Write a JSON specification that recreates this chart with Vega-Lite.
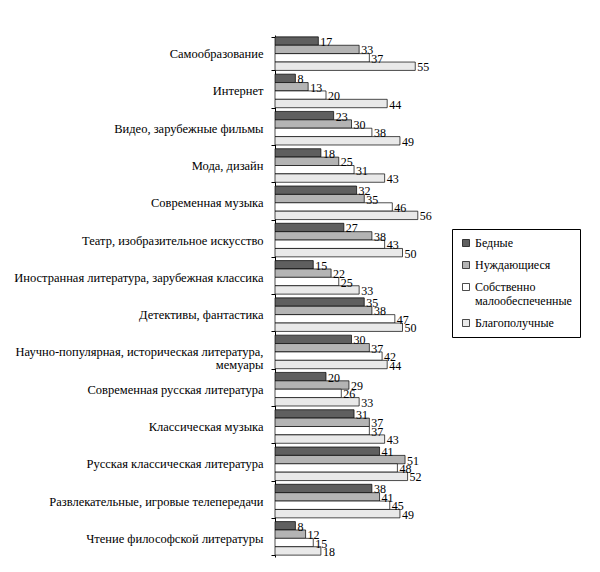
{
  "$schema": "https://vega.github.io/schema/vega-lite/v6.json",
  "autosize": {"type": "none"},
  "padding": {"left": 275, "top": 35, "right": 70, "bottom": 15},
  "width": 255,
  "height": 522,
  "background": "white",
  "config": {
    "view": {"stroke": null}
  },
  "data": {
    "values": [
      {"cat": "Самообразование", "group": "Бедные", "value": 17},
      {"cat": "Самообразование", "group": "Нуждающиеся", "value": 33},
      {"cat": "Самообразование", "group": "Собственно малообеспеченные", "value": 37},
      {"cat": "Самообразование", "group": "Благополучные", "value": 55},
      {"cat": "Интернет", "group": "Бедные", "value": 8},
      {"cat": "Интернет", "group": "Нуждающиеся", "value": 13},
      {"cat": "Интернет", "group": "Собственно малообеспеченные", "value": 20},
      {"cat": "Интернет", "group": "Благополучные", "value": 44},
      {"cat": "Видео, зарубежные фильмы", "group": "Бедные", "value": 23},
      {"cat": "Видео, зарубежные фильмы", "group": "Нуждающиеся", "value": 30},
      {"cat": "Видео, зарубежные фильмы", "group": "Собственно малообеспеченные", "value": 38},
      {"cat": "Видео, зарубежные фильмы", "group": "Благополучные", "value": 49},
      {"cat": "Мода, дизайн", "group": "Бедные", "value": 18},
      {"cat": "Мода, дизайн", "group": "Нуждающиеся", "value": 25},
      {"cat": "Мода, дизайн", "group": "Собственно малообеспеченные", "value": 31},
      {"cat": "Мода, дизайн", "group": "Благополучные", "value": 43},
      {"cat": "Современная музыка", "group": "Бедные", "value": 32},
      {"cat": "Современная музыка", "group": "Нуждающиеся", "value": 35},
      {"cat": "Современная музыка", "group": "Собственно малообеспеченные", "value": 46},
      {"cat": "Современная музыка", "group": "Благополучные", "value": 56},
      {"cat": "Театр, изобразительное искусство", "group": "Бедные", "value": 27},
      {"cat": "Театр, изобразительное искусство", "group": "Нуждающиеся", "value": 38},
      {"cat": "Театр, изобразительное искусство", "group": "Собственно малообеспеченные", "value": 43},
      {"cat": "Театр, изобразительное искусство", "group": "Благополучные", "value": 50},
      {"cat": "Иностранная литература, зарубежная классика", "group": "Бедные", "value": 15},
      {"cat": "Иностранная литература, зарубежная классика", "group": "Нуждающиеся", "value": 22},
      {"cat": "Иностранная литература, зарубежная классика", "group": "Собственно малообеспеченные", "value": 25},
      {"cat": "Иностранная литература, зарубежная классика", "group": "Благополучные", "value": 33},
      {"cat": "Детективы, фантастика", "group": "Бедные", "value": 35},
      {"cat": "Детективы, фантастика", "group": "Нуждающиеся", "value": 38},
      {"cat": "Детективы, фантастика", "group": "Собственно малообеспеченные", "value": 47},
      {"cat": "Детективы, фантастика", "group": "Благополучные", "value": 50},
      {"cat": "Научно-популярная, историческая литература, мемуары", "group": "Бедные", "value": 30},
      {"cat": "Научно-популярная, историческая литература, мемуары", "group": "Нуждающиеся", "value": 37},
      {"cat": "Научно-популярная, историческая литература, мемуары", "group": "Собственно малообеспеченные", "value": 42},
      {"cat": "Научно-популярная, историческая литература, мемуары", "group": "Благополучные", "value": 44},
      {"cat": "Современная русская литература", "group": "Бедные", "value": 20},
      {"cat": "Современная русская литература", "group": "Нуждающиеся", "value": 29},
      {"cat": "Современная русская литература", "group": "Собственно малообеспеченные", "value": 26},
      {"cat": "Современная русская литература", "group": "Благополучные", "value": 33},
      {"cat": "Классическая музыка", "group": "Бедные", "value": 31},
      {"cat": "Классическая музыка", "group": "Нуждающиеся", "value": 37},
      {"cat": "Классическая музыка", "group": "Собственно малообеспеченные", "value": 37},
      {"cat": "Классическая музыка", "group": "Благополучные", "value": 43},
      {"cat": "Русская классическая литература", "group": "Бедные", "value": 41},
      {"cat": "Русская классическая литература", "group": "Нуждающиеся", "value": 51},
      {"cat": "Русская классическая литература", "group": "Собственно малообеспеченные", "value": 48},
      {"cat": "Русская классическая литература", "group": "Благополучные", "value": 52},
      {"cat": "Развлекательные, игровые телепередачи", "group": "Бедные", "value": 38},
      {"cat": "Развлекательные, игровые телепередачи", "group": "Нуждающиеся", "value": 41},
      {"cat": "Развлекательные, игровые телепередачи", "group": "Собственно малообеспеченные", "value": 45},
      {"cat": "Развлекательные, игровые телепередачи", "group": "Благополучные", "value": 49},
      {"cat": "Чтение философской литературы", "group": "Бедные", "value": 8},
      {"cat": "Чтение философской литературы", "group": "Нуждающиеся", "value": 12},
      {"cat": "Чтение философской литературы", "group": "Собственно малообеспеченные", "value": 15},
      {"cat": "Чтение философской литературы", "group": "Благополучные", "value": 18}
    ]
  },
  "encoding": {
    "y": {
      "field": "cat",
      "type": "nominal",
      "sort": null,
      "scale": {"paddingInner": 0.1, "paddingOuter": 0.05},
      "axis": {
        "title": null,
        "domainColor": "black",
        "tickColor": "black",
        "tickBand": "extent",
        "tickSize": 4,
        "labelFont": "Liberation Serif",
        "labelFontSize": 12.5,
        "labelColor": "black",
        "labelLimit": 300,
        "labelLineHeight": 13,
        "labelPadding": 8,
        "labelExpr": "datum.label == 'Научно-популярная, историческая литература, мемуары' ? ['Научно-популярная, историческая литература,', 'мемуары'] : datum.label"
      }
    },
    "yOffset": {
      "field": "group",
      "type": "nominal",
      "sort": ["Бедные", "Нуждающиеся", "Собственно малообеспеченные", "Благополучные"],
      "scale": {"paddingInner": 0, "paddingOuter": 0}
    },
    "x": {
      "field": "value",
      "type": "quantitative",
      "scale": {"domain": [0, 100]},
      "axis": null
    }
  },
  "layer": [
    {
      "mark": {"type": "bar", "stroke": "black", "strokeWidth": 0.7},
      "encoding": {
        "fill": {
          "field": "group",
          "type": "nominal",
          "sort": ["Бедные", "Нуждающиеся", "Собственно малообеспеченные", "Благополучные"],
          "scale": {
            "domain": ["Бедные", "Нуждающиеся", "Собственно малообеспеченные", "Благополучные"],
            "range": ["#5f5f5f", "#b4b4b4", "#ffffff", "#e9e9e9"]
          },
          "legend": {
            "title": null,
            "orient": "none",
            "legendX": 177,
            "legendY": 194,
            "fillColor": "white",
            "strokeColor": "black",
            "padding": 8,
            "symbolType": "square",
            "symbolSize": 49,
            "symbolStrokeColor": "black",
            "symbolStrokeWidth": 0.7,
            "labelFont": "Liberation Serif",
            "labelFontSize": 12,
            "labelColor": "black",
            "labelLimit": 200,
            "labelOffset": 3,
            "rowPadding": 10,
            "labelExpr": "datum.label == 'Собственно малообеспеченные' ? ['Собственно', 'малообеспеченные'] : datum.label"
          }
        }
      }
    },
    {
      "mark": {"type": "text", "align": "left", "baseline": "middle", "dx": 2, "dy": 1, "font": "Liberation Serif", "fontSize": 12, "color": "black"},
      "encoding": {
        "text": {"field": "value", "type": "quantitative"}
      }
    }
  ]
}
